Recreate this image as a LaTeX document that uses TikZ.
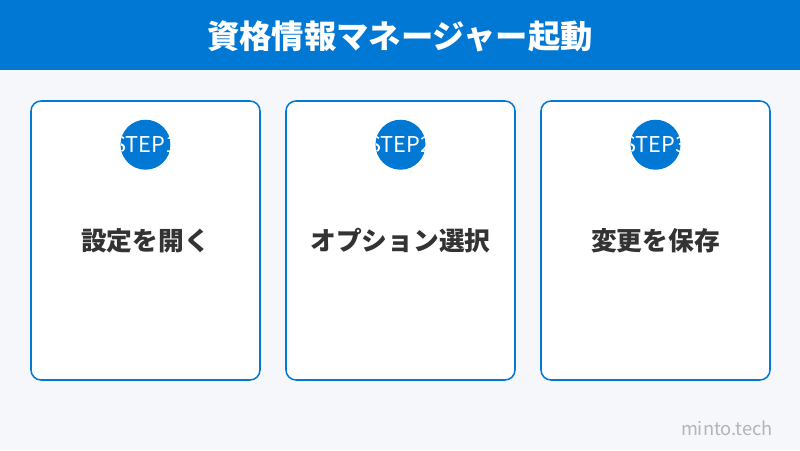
\documentclass[tikz,border=0pt]{standalone}
\usepackage{fontspec}
\setmainfont{Noto Sans CJK JP}
\newfontfamily\lightfont{Noto Sans CJK JP}
\usepackage{tikz}
\definecolor{mainblue}{HTML}{0078D4}
\definecolor{pagebg}{HTML}{F5F7FA}
\definecolor{labeltext}{HTML}{333333}
\definecolor{marktext}{HTML}{B4B4B4}
\tikzstyle{none}=[inner sep=0pt]
\tikzstyle{titlebar}=[fill=mainblue,draw=none]
\tikzstyle{card}=[draw=mainblue,fill=white,line width=1.1pt,rounded corners=0.25cm,minimum width=5.725cm,minimum height=6.975cm,inner sep=0pt]
\tikzstyle{stepmark}=[circle,fill=mainblue,minimum size=1.25cm,inner sep=0pt]
\tikzstyle{steplabel}=[inner sep=0pt,text=labeltext,font=\bfseries\fontsize{18.3}{21}\selectfont]

\begin{document}
\begin{tikzpicture}
	% page and header
	\fill [pagebg] (0, 0) rectangle (20, 11.25);
	\fill [style=titlebar] (0, 9.5) rectangle (20, 11.25);
	\node [style=none, text=white, font=\bfseries\fontsize{23}{27}\selectfont] (title) at (10, 10.35) {資格情報マネージャー起動};
	% the three cards
	\node [style=card] (c1) at (3.6375, 5.2375) {};
	\node [style=card] (c2) at (10.0125, 5.2375) {};
	\node [style=card] (c3) at (16.3875, 5.2375) {};
	\foreach \i in {1,2,3}
		\node [style=stepmark, path picture={\node [text=white, font=\lightfont\fontsize{15.5}{17}\selectfont] at (path picture bounding box.center) {STEP\i};}] (s\i) at ([yshift=-1.1125cm] c\i.north) {};
	\node [style=steplabel] (l1) at (3.6375, 5.225) {設定を開く};
	\node [style=steplabel] (l2) at (10.0125, 5.225) {オプション選択};
	\node [style=steplabel] (l3) at (16.3875, 5.225) {変更を保存};
	% watermark
	\node [style=none, text=marktext, font=\fontsize{13}{15}\selectfont] (mark) at (18.175, 0.55) {minto.tech};
	\useasboundingbox (0, 0) rectangle (20, 11.25);
\end{tikzpicture}
\end{document}
